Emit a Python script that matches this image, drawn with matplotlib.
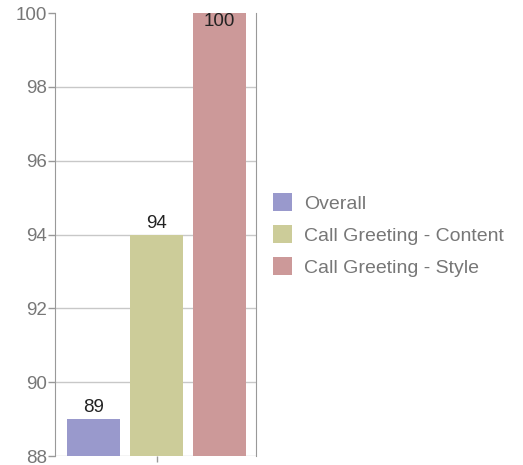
import numpy as np
import matplotlib.pyplot as plt
from matplotlib.patches import Patch

categories = ["Overall", "Call Greeting - Content", "Call Greeting - Style"]
values = [89, 94, 100]
colors = ["#9999cc", "#cccc99", "#cc9999"]
yticks = [88, 90, 92, 94, 96, 98, 100]

plt.rcParams['font.family'] = ['Liberation Sans', 'DejaVu Sans']
fs = 13.5

fig = plt.figure(figsize=(5.23, 4.65), dpi=100)
ax = fig.add_axes([55/523, 9/465, 201/523, 443/465])

x = np.arange(len(values))
ax.bar(x, values, width=0.84, color=colors, zorder=3)

ax.set_ylim(88, 100)
ax.set_xlim(-0.611, 2.579)

# gridlines (no line at the top)
for t in yticks[:-1]:
    ax.axhline(t, color="#c8c8c8", lw=1, zorder=1)

for v, xi in zip(values, x):
    if v >= 99.5:
        ax.annotate(str(v), (xi, 100), xytext=(0, 0), textcoords="offset points",
                    ha="center", va="top", fontsize=fs, color="#222222", zorder=4)
    else:
        ax.annotate(str(v), (xi, v), xytext=(0, 2), textcoords="offset points",
                    ha="center", va="bottom", fontsize=fs, color="#222222", zorder=4)

ax.set_yticks(yticks)
ax.set_yticklabels([str(t) for t in yticks])
ax.set_xticks([1])
ax.set_xticklabels([""])
ax.tick_params(axis="y", colors="#999999", labelcolor="#777777", labelsize=fs, length=5, width=1, pad=1)
ax.tick_params(axis="x", colors="#999999", length=4, width=1)

ax.spines["top"].set_visible(False)
ax.spines["bottom"].set_visible(False)
ax.spines["left"].set_color("#999999")
ax.spines["right"].set_color("#999999")

handles = [Patch(facecolor=c, edgecolor="none") for c in colors]
leg = fig.legend(handles, categories, loc="center left", bbox_to_anchor=(273/523, 1 - 235/465),
                 frameon=False, fontsize=14, handlelength=1.0, handleheight=1.0,
                 handletextpad=0.6, labelspacing=0.65, borderpad=0, borderaxespad=0)
for t in leg.get_texts():
    t.set_color("#777777")

fig.savefig("out.png", dpi=100)
